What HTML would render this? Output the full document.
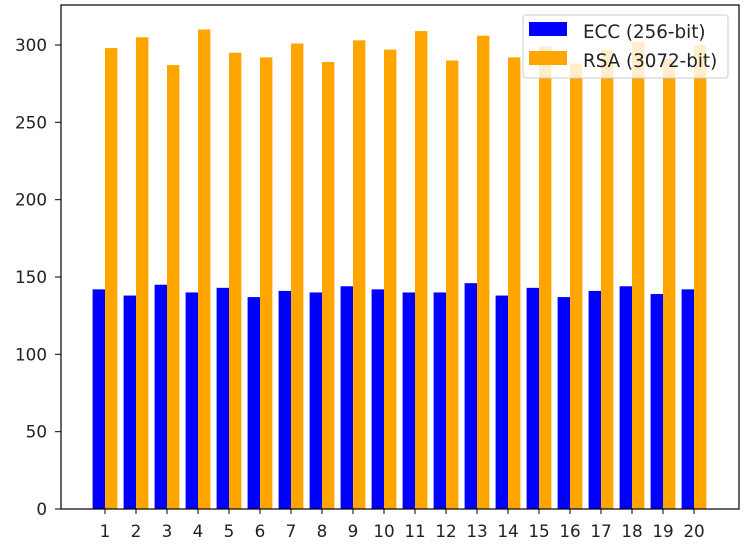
<!DOCTYPE html>
<html><head><style>body{margin:0;background:#fff}</style></head><body>
<svg width="750" height="551" xmlns="http://www.w3.org/2000/svg" font-family="DejaVu Sans, sans-serif" font-size="16.8">
<rect width="750" height="551" fill="#fff"/>
<g transform="translate(0,509) scale(1,-1.5467)">
<g fill="#0000ff">
<rect x="92.6" y="0" width="12.4" height="142"/><rect x="123.6" y="0" width="12.4" height="138"/><rect x="154.6" y="0" width="12.4" height="145"/><rect x="185.6" y="0" width="12.4" height="140"/><rect x="216.6" y="0" width="12.4" height="143"/><rect x="247.6" y="0" width="12.4" height="137"/><rect x="278.6" y="0" width="12.4" height="141"/><rect x="309.6" y="0" width="12.4" height="140"/><rect x="340.6" y="0" width="12.4" height="144"/><rect x="371.6" y="0" width="12.4" height="142"/><rect x="402.6" y="0" width="12.4" height="140"/><rect x="433.6" y="0" width="12.4" height="140"/><rect x="464.6" y="0" width="12.4" height="146"/><rect x="495.6" y="0" width="12.4" height="138"/><rect x="526.6" y="0" width="12.4" height="143"/><rect x="557.6" y="0" width="12.4" height="137"/><rect x="588.6" y="0" width="12.4" height="141"/><rect x="619.6" y="0" width="12.4" height="144"/><rect x="650.6" y="0" width="12.4" height="139"/><rect x="681.6" y="0" width="12.4" height="142"/>
</g>
<g fill="#ffa500">
<rect x="105" y="0" width="12.4" height="298"/><rect x="136" y="0" width="12.4" height="305"/><rect x="167" y="0" width="12.4" height="287"/><rect x="198" y="0" width="12.4" height="310"/><rect x="229" y="0" width="12.4" height="295"/><rect x="260" y="0" width="12.4" height="292"/><rect x="291" y="0" width="12.4" height="301"/><rect x="322" y="0" width="12.4" height="289"/><rect x="353" y="0" width="12.4" height="303"/><rect x="384" y="0" width="12.4" height="297"/><rect x="415" y="0" width="12.4" height="309"/><rect x="446" y="0" width="12.4" height="290"/><rect x="477" y="0" width="12.4" height="306"/><rect x="508" y="0" width="12.4" height="292"/><rect x="539" y="0" width="12.4" height="299"/><rect x="570" y="0" width="12.4" height="288"/><rect x="601" y="0" width="12.4" height="297"/><rect x="632" y="0" width="12.4" height="302"/><rect x="663" y="0" width="12.4" height="291"/><rect x="694" y="0" width="12.4" height="300"/>
</g>
</g>
<g stroke="#000" stroke-width="1">
<line x1="105" y1="509" x2="105" y2="514"/><line x1="136" y1="509" x2="136" y2="514"/><line x1="167" y1="509" x2="167" y2="514"/><line x1="198" y1="509" x2="198" y2="514"/><line x1="229" y1="509" x2="229" y2="514"/><line x1="260" y1="509" x2="260" y2="514"/><line x1="291" y1="509" x2="291" y2="514"/><line x1="322" y1="509" x2="322" y2="514"/><line x1="353" y1="509" x2="353" y2="514"/><line x1="384" y1="509" x2="384" y2="514"/><line x1="415" y1="509" x2="415" y2="514"/><line x1="446" y1="509" x2="446" y2="514"/><line x1="477" y1="509" x2="477" y2="514"/><line x1="508" y1="509" x2="508" y2="514"/><line x1="539" y1="509" x2="539" y2="514"/><line x1="570" y1="509" x2="570" y2="514"/><line x1="601" y1="509" x2="601" y2="514"/><line x1="632" y1="509" x2="632" y2="514"/><line x1="663" y1="509" x2="663" y2="514"/><line x1="694" y1="509" x2="694" y2="514"/>
<line x1="55" y1="509" x2="61" y2="509"/><line x1="55" y1="431.7" x2="61" y2="431.7"/><line x1="55" y1="354.3" x2="61" y2="354.3"/><line x1="55" y1="277" x2="61" y2="277"/><line x1="55" y1="199.7" x2="61" y2="199.7"/><line x1="55" y1="122.3" x2="61" y2="122.3"/><line x1="55" y1="45" x2="61" y2="45"/>
</g>
<g fill="#222" text-anchor="middle">
<text x="105" y="537">1</text><text x="136" y="537">2</text><text x="167" y="537">3</text><text x="198" y="537">4</text><text x="229" y="537">5</text><text x="260" y="537">6</text><text x="291" y="537">7</text><text x="322" y="537">8</text><text x="353" y="537">9</text><text x="384" y="537">10</text><text x="415" y="537">11</text><text x="446" y="537">12</text><text x="477" y="537">13</text><text x="508" y="537">14</text><text x="539" y="537">15</text><text x="570" y="537">16</text><text x="601" y="537">17</text><text x="632" y="537">18</text><text x="663" y="537">19</text><text x="694" y="537">20</text>
</g>
<g fill="#222" text-anchor="end">
<text x="47" y="515">0</text><text x="47" y="437.7">50</text><text x="47" y="360.3">100</text><text x="47" y="283">150</text><text x="47" y="205.7">200</text><text x="47" y="128.3">250</text><text x="47" y="51">300</text>
</g>
<rect x="61" y="5" width="678" height="504" fill="none" stroke="#000" stroke-width="1.2"/>
<rect x="523" y="15" width="205" height="63" rx="3" fill="#fff" fill-opacity="0.8" stroke="#ccc"/>
<rect x="529" y="22" width="38" height="14" fill="#0000ff"/>
<rect x="529" y="51" width="38" height="14" fill="#ffa500"/>
<text x="583" y="38" fill="#222" font-size="18.3">ECC (256-bit)</text>
<text x="583" y="67" fill="#222" font-size="18.3">RSA (3072-bit)</text>
</svg>
</body></html>
